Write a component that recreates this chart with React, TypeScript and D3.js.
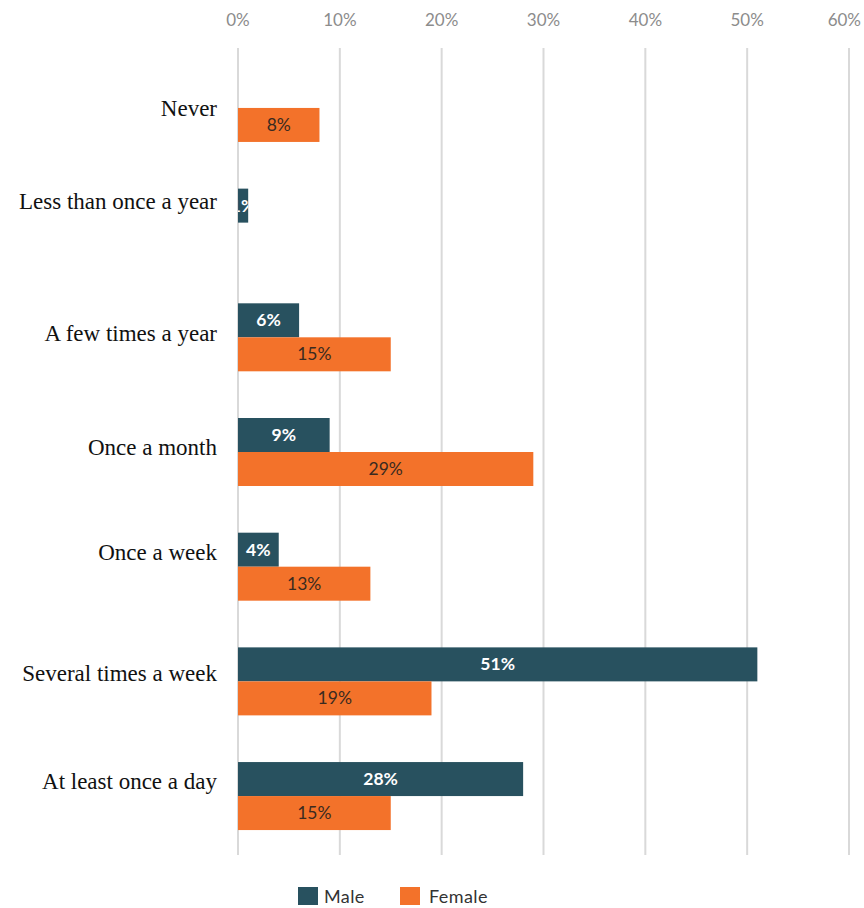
import React from "react";
import * as d3 from "d3";

const categories = [
  "Never",
  "Less than once a year",
  "A few times a year",
  "Once a month",
  "Once a week",
  "Several times a week",
  "At least once a day",
];
const maleValues: (number | null)[] = [null, 1, 6, 9, 4, 51, 28];
const femaleValues: (number | null)[] = [8, null, 15, 29, 13, 19, 15];
const seriesNames = ["Male", "Female"];
const xTicks = [0, 10, 20, 30, 40, 50, 60];
// small vertical nudges of category labels, as in the original picture
const labelNudge = [0, -22, -4, -5, -15, -8, -15];

const W = 864;
const H = 908;
const MALE = "#28515f";
const FEMALE = "#f3722a";

export default function App() {
  const x = d3.scaleLinear().domain([0, 60]).range([238, 849]);
  const y = d3.scaleBand<string>().domain(categories).range([50.6, 853.4]);
  const barH = 34;
  const series = [maleValues, femaleValues];

  return (
    <svg
      width={W}
      height={H}
      style={{ position: "absolute", left: 0, top: 0, background: "#fff" }}
    >
      <defs>
        <clipPath id="clipSmall">
          {categories.map((c, i) => {
            const v = maleValues[i];
            if (v == null) return null;
            return (
              <rect
                key={c}
                x={x(0)}
                y={(y(c) as number) + y.bandwidth() / 2 - barH}
                width={x(v) - x(0)}
                height={barH}
              />
            );
          })}
        </clipPath>
      </defs>
      {xTicks.map((t, k) => {
        const last = k === xTicks.length - 1;
        return (
          <g key={t}>
            <line
              x1={x(t)}
              x2={x(t)}
              y1={48}
              y2={855}
              stroke="#d9d9d9"
              strokeWidth={2}
            />
            <text
              x={last ? W - 3 : x(t)}
              y={26}
              textAnchor={last ? "end" : "middle"}
              fontFamily="Lato, 'Open Sans', sans-serif"
              fontSize={17}
              fill="#8c8c8c"
            >
              {t}%
            </text>
          </g>
        );
      })}
      {categories.map((c, i) => {
        const cy = (y(c) as number) + y.bandwidth() / 2;
        return (
          <g key={c}>
            {series.map((vals, s) => {
              const v = vals[i];
              if (v == null) return null;
              const by = s === 0 ? cy - barH : cy;
              const w = x(v) - x(0);
              return (
                <g key={s}>
                  <rect
                    x={x(0)}
                    y={by}
                    width={w}
                    height={barH}
                    fill={s === 0 ? MALE : FEMALE}
                  />
                  <text
                    x={x(0) + w / 2}
                    y={by + barH / 2 + 6}
                    textAnchor="middle"
                    fontFamily="Lato, 'Open Sans', sans-serif"
                    fontSize={17.5}
                    fontWeight={s === 0 ? 700 : 400}
                    fill={s === 0 ? "#ffffff" : "#3a2a20"}
                    clipPath={v < 3 ? "url(#clipSmall)" : undefined}
                  >
                    {v}%
                  </text>
                </g>
              );
            })}
            <text
              x={217}
              y={cy + labelNudge[i] + 8}
              textAnchor="end"
              fontFamily="'Liberation Serif', 'Times New Roman', serif"
              fontSize={23}
              fill="#111"
            >
              {c}
            </text>
          </g>
        );
      })}
      {seriesNames.map((n, s) => {
        const lx = s === 0 ? 298 : 400;
        return (
          <g key={n}>
            <rect
              x={lx}
              y={887}
              width={20}
              height={18}
              fill={s === 0 ? MALE : FEMALE}
            />
            <text
              x={lx + (s === 0 ? 26 : 29)}
              y={903}
              fontFamily="Lato, 'Open Sans', sans-serif"
              fontSize={18}
              letterSpacing={0.4}
              fill="#333"
            >
              {n}
            </text>
          </g>
        );
      })}
    </svg>
  );
}
